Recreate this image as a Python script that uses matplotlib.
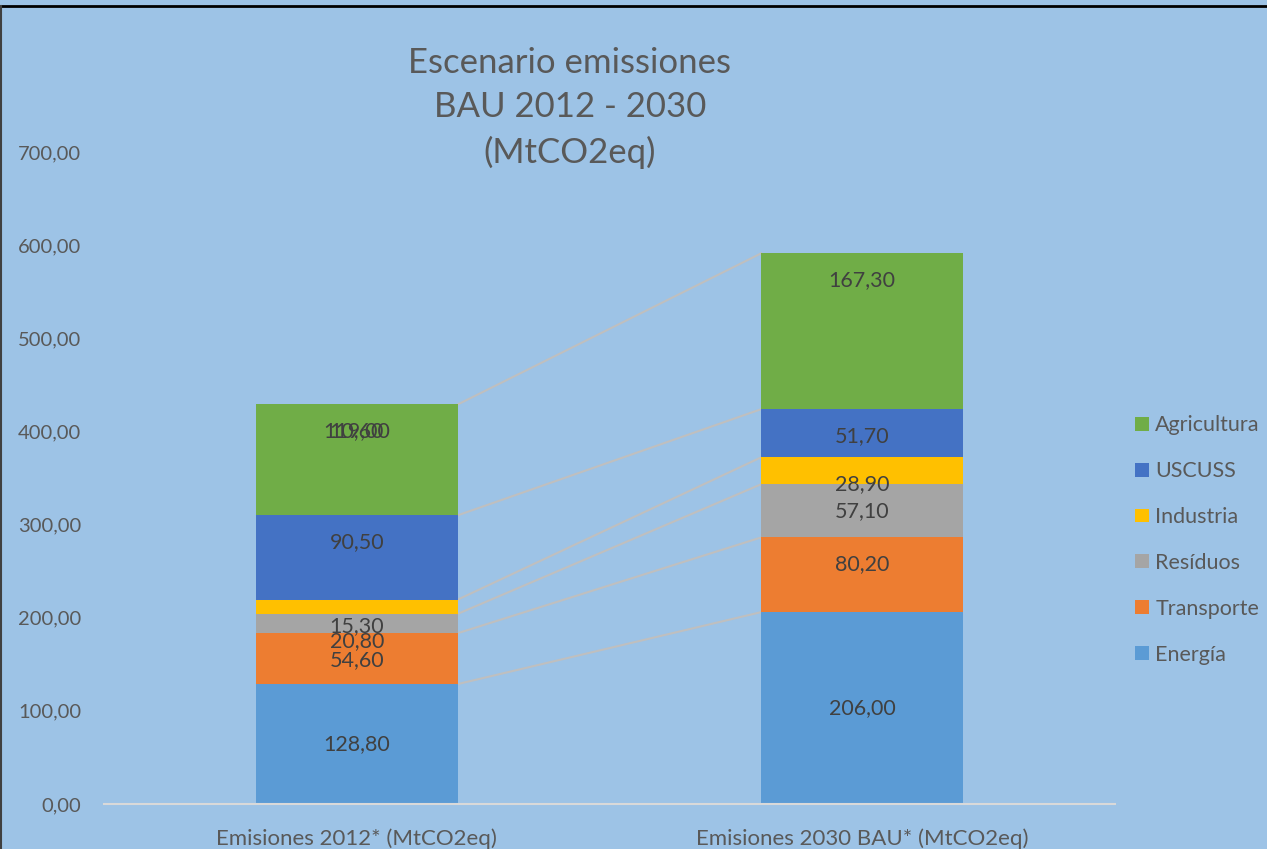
import matplotlib.pyplot as plt
from matplotlib.lines import Line2D
from matplotlib.patches import Patch

# Dados do gráfico
categorias = ['Emisiones 2012* (MtCO2eq)', 'Emisiones 2030 BAU* (MtCO2eq)']
setores = ['Energía', 'Transporte', 'Resíduos', 'Industria', 'USCUSS', 'Agricultura']
energia = [128.80, 206.00]
transporte = [54.60, 80.20]
residuos = [20.80, 57.10]
industria = [15.30, 28.90]
uscuss = [90.50, 51.70]
agricultura = [119.00, 167.30]
rotulo_sobreposto = '10,60'  # rótulo que aparece sobreposto no topo da barra 2012

cores = ['#5B9BD5', '#ED7D31', '#A5A5A5', '#FFC000', '#4472C4', '#70AD47']
fundo = '#9DC3E6'
texto = '#595959'
rotulo = '#404040'

plt.rcParams['font.family'] = ['Lato', 'DejaVu Sans']

fig = plt.figure(figsize=(12.67, 8.49), dpi=100, facecolor=fundo)
ax = fig.add_axes([104 / 1267, 45 / 849, 1011 / 1267, 652 / 849])
ax.set_facecolor(fundo)

series = [energia, transporte, residuos, industria, uscuss, agricultura]
x = [0, 1]
largura = 0.4
base = [0.0, 0.0]
topos = []
for i, (nome, vals) in enumerate(zip(setores, series)):
    ax.bar(x, vals, largura, bottom=base, color=cores[i], label=nome, zorder=2)
    topo = [b + v for b, v in zip(base, vals)]
    for j in range(2):
        txt = f'{vals[j]:.2f}'.replace('.', ',')
        if i == 0:
            # Energía: rótulo no centro
            ax.text(x[j], base[j] + vals[j] / 2, txt, ha='center', va='center',
                    fontsize=15.5, color=rotulo, zorder=4)
        else:
            # demais: rótulo perto do topo (inside end)
            ax.annotate(txt, (x[j], topo[j]), xytext=(0, -27), textcoords='offset pixels',
                        ha='center', va='center', fontsize=15.5, color=rotulo, zorder=4)
    topos.append(topo)
    base = topo

# rótulo sobreposto (como no original)
ax.annotate(rotulo_sobreposto, (x[0], topos[-1][0]), xytext=(0, -27), textcoords='offset pixels',
            ha='center', va='center', fontsize=15.5, color=rotulo, zorder=4)

# linhas de série entre as barras
for topo in topos:
    ax.plot([x[0] + largura / 2, x[1] - largura / 2], topo, color='#BFBFBF', lw=1.5, zorder=1)

ax.set_xlim(-0.5, 1.5)
ax.set_ylim(0, 700)
ax.set_yticks(range(0, 701, 100))
ax.set_yticklabels([f'{v:.2f}'.replace('.', ',') for v in range(0, 701, 100)])
ax.set_xticks(x)
ax.set_xticklabels(categorias)
ax.tick_params(axis='y', length=0, pad=16.5, labelsize=14.5, labelcolor=texto)
ax.tick_params(axis='x', length=0, pad=17.5, labelsize=16, labelcolor=texto)
for lado in ['top', 'right', 'left']:
    ax.spines[lado].set_visible(False)
ax.spines['bottom'].set_color('#D9D9D9')
ax.spines['bottom'].set_linewidth(1.5)
ax.spines['bottom'].set_zorder(3)

# título
fig.text(570 / 1267, 1 - 108 / 849, 'Escenario emissiones\nBAU 2012 - 2030\n(MtCO2eq)',
         ha='center', va='center', fontsize=25, color=texto, linespacing=1.45)

# legenda
handles = [Patch(facecolor=c, edgecolor='none') for c in cores][::-1]
leg = fig.legend(handles, setores[::-1], loc='center left',
                 bbox_to_anchor=(1116 / 1267, 1 - 540 / 849), frameon=False,
                 fontsize=15.5, labelcolor=texto, handlelength=0.62, handleheight=0.62,
                 handletextpad=0.3, labelspacing=1.2)

# borda
fig.add_artist(Line2D([0, 1], [1 - 6 / 849, 1 - 6 / 849], color='black', lw=2))
fig.add_artist(Line2D([1 / 1267, 1 / 1267], [0, 1 - 6 / 849], color='#404040', lw=1.5))

fig.savefig('out.png', dpi=100, facecolor=fundo)
